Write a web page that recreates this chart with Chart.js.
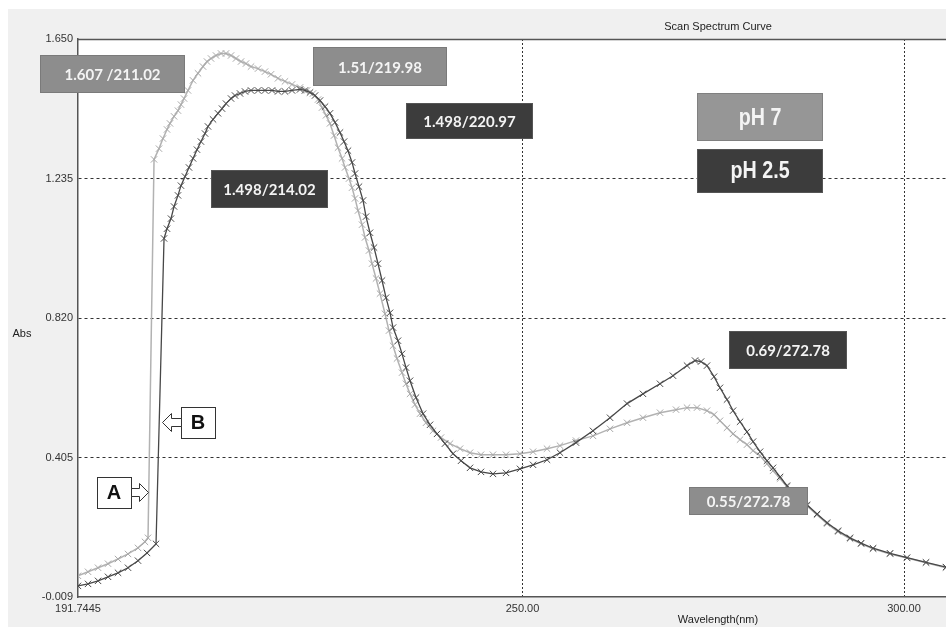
<!DOCTYPE html>
<html><head><meta charset="utf-8">
<script src="https://cdn.jsdelivr.net/npm/chart.js@4.4.1/dist/chart.umd.min.js"></script>
<style>html,body{margin:0;padding:0;background:#fff;} #wrap{position:relative;width:946px;height:627px;} canvas{display:block;}</style>
</head><body><div id="wrap"><canvas id="c" width="946" height="627"></canvas></div>
<script>
// ---- data ----
const wavelengthPH7 = [191.74,193.06,194.37,195.68,196.99,198.30,199.61,200.52,200.92,201.71,202.36,202.88,203.41,203.80,204.33,204.85,205.24,205.64,206.16,206.82,207.47,208.13,208.65,209.18,209.83,210.49,211.14,211.80,212.45,213.11,213.76,214.42,215.34,216.25,217.04,217.96,218.87,219.79,220.84,221.76,222.54,223.20,223.72,224.25,224.77,225.30,225.82,226.35,226.74,227.26,227.66,228.05,228.44,228.97,229.36,229.88,230.28,230.80,231.32,231.98,232.50,233.03,233.55,234.21,234.73,235.26,235.91,236.57,237.35,238.27,239.32,240.50,241.81,243.12,244.56,246.13,247.84,249.67,251.38,253.21,254.91,257.01,259.24,261.47,263.70,265.79,268.02,270.12,271.56,272.87,274.18,275.10,275.88,276.80,277.59,278.51,279.42,280.21,281.13,282.04,282.83,283.75,284.66,285.97,287.28,288.60,289.91,291.35,292.92,294.37,295.94,298.17,300.39,302.88,305.50];
const absPH7 = [0.054,0.066,0.078,0.090,0.104,0.119,0.137,0.155,0.167,1.292,1.324,1.354,1.381,1.399,1.420,1.437,1.455,1.473,1.497,1.527,1.548,1.568,1.583,1.592,1.601,1.607,1.607,1.601,1.592,1.583,1.577,1.568,1.562,1.553,1.545,1.533,1.524,1.515,1.506,1.497,1.488,1.470,1.446,1.423,1.399,1.363,1.327,1.295,1.268,1.235,1.208,1.176,1.140,1.098,1.060,1.021,0.982,0.938,0.893,0.833,0.783,0.738,0.700,0.658,0.625,0.595,0.563,0.536,0.509,0.485,0.465,0.447,0.432,0.420,0.414,0.414,0.414,0.417,0.423,0.432,0.441,0.456,0.470,0.491,0.509,0.524,0.539,0.548,0.554,0.554,0.545,0.533,0.515,0.494,0.476,0.459,0.444,0.426,0.411,0.387,0.366,0.343,0.319,0.289,0.262,0.235,0.209,0.185,0.164,0.149,0.134,0.119,0.107,0.093,0.078];

const wavelengthPH25 = [191.74,193.06,194.37,195.68,196.99,198.30,199.61,200.79,201.97,203.02,203.41,203.93,204.33,204.85,205.24,205.77,206.29,206.82,207.34,207.86,208.39,208.78,209.44,210.09,210.62,211.14,211.80,212.32,212.98,213.63,214.42,215.34,216.25,217.17,217.96,218.87,219.79,220.84,221.49,222.15,222.81,223.46,224.12,224.77,225.43,226.08,226.61,227.13,227.66,228.05,228.57,229.10,229.49,230.01,230.54,231.06,231.59,232.11,232.64,233.03,233.68,234.21,234.73,235.26,236.04,236.96,237.88,238.80,239.84,240.89,241.94,243.12,244.56,246.13,247.84,249.67,251.38,253.21,254.91,257.01,259.24,261.47,263.70,265.79,268.02,269.72,271.56,272.61,273.40,274.18,275.10,275.88,276.80,277.59,278.51,279.42,280.21,281.13,282.04,282.83,283.75,284.66,285.97,287.28,288.60,289.91,291.35,292.92,294.37,295.94,298.17,300.39,302.88,305.50];
const absPH25 = [0.024,0.030,0.039,0.051,0.063,0.078,0.099,0.122,0.149,1.057,1.086,1.116,1.152,1.185,1.214,1.241,1.268,1.295,1.321,1.345,1.369,1.390,1.411,1.429,1.443,1.458,1.473,1.482,1.488,1.494,1.497,1.497,1.497,1.497,1.494,1.494,1.497,1.500,1.497,1.491,1.482,1.467,1.449,1.429,1.402,1.372,1.345,1.318,1.283,1.250,1.211,1.170,1.122,1.074,1.030,0.982,0.932,0.881,0.836,0.792,0.753,0.714,0.673,0.634,0.584,0.536,0.503,0.476,0.447,0.417,0.396,0.375,0.363,0.357,0.360,0.372,0.384,0.399,0.420,0.450,0.485,0.524,0.566,0.595,0.625,0.649,0.679,0.694,0.691,0.679,0.646,0.613,0.578,0.545,0.512,0.482,0.453,0.423,0.396,0.375,0.348,0.322,0.292,0.265,0.238,0.212,0.188,0.167,0.151,0.136,0.121,0.108,0.094,0.080];

const xTickValues = [191.7445, 250, 300];
const xTickLabels = ["191.7445", "250.00", "300.00"];
const yTickValues = [-0.009, 0.405, 0.820, 1.235, 1.650];
const yTickLabels = ["-0.009", "0.405", "0.820", "1.235", "1.650"];

const noteTexts = ["1.607 /211.02", "1.51/219.98", "1.498/220.97", "1.498/214.02", "pH 7", "pH 2.5", "0.69/272.78", "0.55/272.78"];
const noteWavelengths = [196.27, 231.32, 243.05, 216.84, 281.13, 281.13, 284.80, 279.62];
const noteAbs = [1.545, 1.567, 1.405, 1.205, 1.417, 1.259, 0.726, 0.276];

const calloutTexts = ["B", "A"];
const calloutWavelengths = [207.47, 196.46];
const calloutAbs = [0.511, 0.302];

// ---- presentation (not data) ----
const smallFont = 'bold 15px Lato, "Open Sans", sans-serif';
const bigFont = 'bold 24px "Liberation Sans", Arial, sans-serif';
const noteStyles = [
  {w:145,h:38,fill:'#8d8d8d',stroke:'#7a7a7a',font:smallFont,sx:1},
  {w:134,h:39,fill:'#8d8d8d',stroke:'#7a7a7a',font:smallFont,sx:1},
  {w:127,h:36,fill:'#3c3c3c',stroke:'#555',font:smallFont,sx:1},
  {w:117,h:38,fill:'#3c3c3c',stroke:'#555',font:smallFont,sx:1},
  {w:126,h:48,fill:'#969696',stroke:'#808080',font:bigFont,sx:0.82},
  {w:126,h:44,fill:'#3c3c3c',stroke:'#555',font:bigFont,sx:0.82},
  {w:118,h:38,fill:'#3c3c3c',stroke:'#555',font:smallFont,sx:1},
  {w:119,h:28,fill:'#8d8d8d',stroke:'#7a7a7a',font:smallFont,sx:1}
];
const calloutStyles = [{w:34,h:31,dir:-1,len:19},{w:34,h:31,dir:1,len:17}];

const pts = (xs, ys) => xs.map((x, i) => ({x: x, y: ys[i]}));

const decorPlugin = {
  id: 'decor',
  beforeDraw(chart) {
    const {ctx, chartArea: a} = chart;
    ctx.save();
    ctx.fillStyle = '#f0f0f0';
    ctx.fillRect(8, 9, 938, 618);
    ctx.fillStyle = '#ffffff';
    ctx.fillRect(a.left, a.top, a.right - a.left, a.bottom - a.top);
    ctx.restore();
  },
  afterDraw(chart) {
    const {ctx, chartArea: a, scales} = chart;
    const sx = scales.x, sy = scales.y;
    ctx.save();
    ctx.strokeStyle = '#555';
    ctx.lineWidth = 1.5;
    ctx.beginPath(); ctx.moveTo(a.left, a.top + 0.5); ctx.lineTo(a.right, a.top + 0.5); ctx.stroke();
    ctx.fillStyle = '#222';
    ctx.font = '11px "Liberation Sans", Arial, sans-serif';
    ctx.textAlign = 'center'; ctx.textBaseline = 'middle';
    ctx.fillText('Scan Spectrum Curve', 718, 27);
    ctx.fillText('Wavelength(nm)', 718, 620);
    ctx.fillText('Abs', 22, 334);
    noteTexts.forEach((t, i) => {
      const st = noteStyles[i];
      const cx = sx.getPixelForValue(noteWavelengths[i]);
      const cy = sy.getPixelForValue(noteAbs[i]);
      const x0 = Math.round(cx - st.w / 2), y0 = Math.round(cy - st.h / 2);
      ctx.fillStyle = st.fill;
      ctx.fillRect(x0, y0, st.w, st.h);
      ctx.strokeStyle = st.stroke; ctx.lineWidth = 1;
      ctx.strokeRect(x0 + 0.5, y0 + 0.5, st.w - 1, st.h - 1);
      ctx.save();
      ctx.translate(cx, cy + 1);
      ctx.scale(st.sx, 1);
      ctx.fillStyle = '#f4f4f4';
      ctx.font = st.font;
      ctx.textAlign = 'center'; ctx.textBaseline = 'middle';
      ctx.fillText(t, 0, 0);
      ctx.restore();
    });
    calloutTexts.forEach((t, i) => {
      const st = calloutStyles[i];
      const cx = sx.getPixelForValue(calloutWavelengths[i]);
      const cy = sy.getPixelForValue(calloutAbs[i]);
      const x0 = Math.round(cx - st.w / 2) + 0.5, y0 = Math.round(cy - st.h / 2) + 0.5;
      ctx.fillStyle = '#fff';
      ctx.fillRect(x0, y0, st.w, st.h);
      ctx.strokeStyle = '#333'; ctx.lineWidth = 1;
      ctx.strokeRect(x0, y0, st.w, st.h);
      ctx.fillStyle = '#111';
      ctx.font = 'bold 20px "Liberation Sans", Arial, sans-serif';
      ctx.textAlign = 'center'; ctx.textBaseline = 'middle';
      ctx.fillText(t, cx, cy + 1);
      const bx = st.dir < 0 ? x0 : x0 + st.w;
      const tip = bx + st.dir * st.len;
      const hx = tip - st.dir * 9;
      const y = Math.round(cy) + 0.5;
      ctx.beginPath();
      ctx.moveTo(bx, y - 4); ctx.lineTo(hx, y - 4); ctx.lineTo(hx, y - 9);
      ctx.lineTo(tip, y); ctx.lineTo(hx, y + 9); ctx.lineTo(hx, y + 4); ctx.lineTo(bx, y + 4);
      ctx.closePath();
      ctx.fillStyle = '#fff'; ctx.fill();
      ctx.strokeStyle = '#333'; ctx.stroke();
    });
    ctx.restore();
  }
};

const tickFont = {family: '"Liberation Sans", Arial, sans-serif', size: 11};

new Chart(document.getElementById('c'), {
  type: 'line',
  data: {
    datasets: [
      {
        label: 'pH 2.5',
        data: pts(wavelengthPH25, absPH25),
        order: 0,
        borderColor: '#474747', borderWidth: 1.3,
        pointStyle: 'crossRot', pointRadius: 4.5, pointBorderColor: '#4a4a4a', pointBorderWidth: 1,
        pointBackgroundColor: 'transparent', tension: 0, fill: false
      },
      {
        label: 'pH 7',
        data: pts(wavelengthPH7, absPH7),
        order: 1,
        borderColor: '#b2b2b2', borderWidth: 1.5,
        pointStyle: 'crossRot', pointRadius: 4.5, pointBorderColor: '#a9a9a9', pointBorderWidth: 1,
        pointBackgroundColor: 'transparent', tension: 0, fill: false
      }
    ]
  },
  options: {
    responsive: false,
    devicePixelRatio: 1,
    animation: false,
    events: [],
    layout: {autoPadding: false, padding: {top: 39, left: 0, right: 0, bottom: 0}},
    plugins: {legend: {display: false}, tooltip: {enabled: false}, title: {display: false}},
    scales: {
      x: {
        type: 'linear', min: 191.7445, max: 305.5,
        afterFit: s => { s.height = 30; s.paddingLeft = 0; s.paddingRight = 0; },
        afterBuildTicks: s => { s.ticks = xTickValues.map(v => ({value: v})); },
        ticks: {
          autoSkip: false, maxRotation: 0, minRotation: 0, padding: 5, color: '#333', font: tickFont,
          callback: (v, i) => xTickLabels[i]
        },
        grid: {
          drawTicks: false, lineWidth: 1,
          color: c => (c.tick && c.tick.value === xTickValues[0]) ? 'rgba(0,0,0,0)' : '#333'
        },
        border: {display: true, color: '#555', width: 1.5, dash: [2, 2]}
      },
      y: {
        type: 'linear', min: -0.009, max: 1.650,
        afterFit: s => { s.width = 78; s.paddingTop = 0; s.paddingBottom = 0; },
        afterBuildTicks: s => { s.ticks = yTickValues.map(v => ({value: v})); },
        ticks: {
          autoSkip: false, padding: 5, color: '#333', font: tickFont,
          callback: (v, i) => yTickLabels[i]
        },
        grid: {
          drawTicks: false, lineWidth: 1,
          color: c => (c.tick && (c.tick.value === yTickValues[0] || c.tick.value === yTickValues[yTickValues.length - 1])) ? 'rgba(0,0,0,0)' : '#333'
        },
        border: {display: true, color: '#555', width: 1.5, dash: [3, 3]}
      }
    }
  },
  plugins: [decorPlugin]
});
</script></body></html>
